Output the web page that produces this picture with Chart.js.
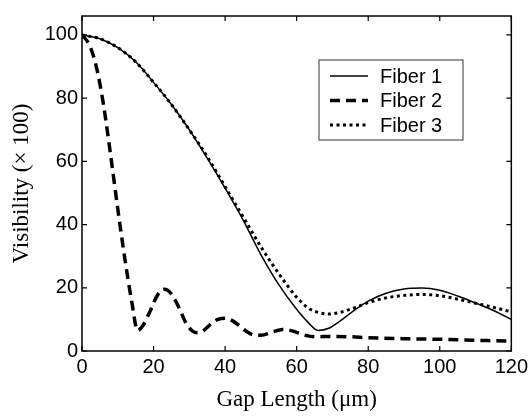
<!DOCTYPE html>
<html>
<head>
<meta charset="utf-8">
<script src="https://cdn.jsdelivr.net/npm/chart.js@4/dist/chart.umd.min.js"></script>
<style>
  body { margin: 0; background: #fff; }
  #wrap { width: 532px; height: 416px; }
</style>
</head>
<body>
<div id="wrap"><canvas id="chart"></canvas></div>
<script>
// Tick labels
const xTicks = [0, 20, 40, 60, 80, 100, 120];
const yTicks = [0, 20, 40, 60, 80, 100];

// Fiber 1 (solid)
const gap1 = [0, 5, 10, 15, 20, 25, 30, 35, 40, 45, 50, 55, 60, 63, 66, 69, 72, 76, 80, 85, 90, 95, 100, 105, 110, 115, 120];
const vis1 = [100, 98.8, 96, 91.5, 85, 78, 70, 61, 51.5, 41.5, 30.5, 21, 13.2, 9.3, 6.5, 7.2, 9.4, 12.8, 15.8, 18.3, 19.6, 19.9, 19.2, 17.4, 15.2, 12.8, 10];

// Fiber 2 (dashed)
const gap2 = [0, 2, 4, 6, 8, 10, 12, 14, 15.5, 17, 19, 21, 23, 25, 27, 29, 31, 32.5, 34, 36, 38, 40, 42, 44, 46, 48, 50, 53, 56, 59, 62, 65, 70, 75, 80, 90, 100, 110, 120];
const vis2 = [100, 97, 90, 78, 62, 45, 29, 15, 6.5, 8, 12.5, 17.5, 19.5, 18, 14, 9, 6.2, 5.8, 6.5, 8.5, 10, 10.4, 9.6, 8, 6.2, 5.1, 5, 5.9, 6.8, 6.3, 5.1, 4.5, 4.6, 4.5, 4.2, 3.9, 3.7, 3.4, 3.1];

// Fiber 3 (dotted)
const gap3 = [0, 5, 10, 15, 20, 25, 30, 35, 40, 45, 50, 55, 60, 63, 66, 69, 72, 76, 80, 85, 90, 95, 100, 105, 110, 115, 120];
const vis3 = [100, 98.8, 96, 91.5, 85, 78, 70, 61.5, 52, 42.5, 33, 24.5, 17, 13.8, 12.2, 11.7, 12.2, 13.6, 15.3, 16.8, 17.6, 17.9, 17.5, 16.4, 15.1, 13.8, 12.4];

const toPoints = (xs, ys) => xs.map((x, i) => ({ x: x, y: ys[i] }));

const TICK_FONT = { family: 'Liberation Sans, Arial, sans-serif', size: 20 };
const TITLE_FONT = { family: 'Liberation Serif, Times New Roman, serif', size: 23 };

// Box, inward ticks and legend, drawn like the MATLAB figure
const frameAndLegend = {
    id: 'frameAndLegend',
    afterDraw(chart) {
        const { ctx, chartArea: a, scales: { x, y } } = chart;
        ctx.save();
        ctx.strokeStyle = '#000';
        ctx.lineWidth = 1.5;
        ctx.strokeRect(a.left, a.top, a.right - a.left, a.bottom - a.top);

        ctx.lineWidth = 1.2;
        ctx.beginPath();
        xTicks.forEach(v => {
            const px = x.getPixelForValue(v);
            ctx.moveTo(px, a.bottom); ctx.lineTo(px, a.bottom - 5);
            ctx.moveTo(px, a.top); ctx.lineTo(px, a.top + 5);
        });
        yTicks.forEach(v => {
            const py = y.getPixelForValue(v);
            ctx.moveTo(a.left, py); ctx.lineTo(a.left + 5, py);
            ctx.moveTo(a.right, py); ctx.lineTo(a.right - 5, py);
        });
        ctx.stroke();

        // Legend
        const box = { left: 319, top: 60, right: 463, bottom: 140 };
        ctx.fillStyle = '#fff';
        ctx.fillRect(box.left, box.top, box.right - box.left, box.bottom - box.top);
        ctx.lineWidth = 1;
        ctx.strokeStyle = '#333';
        ctx.strokeRect(box.left, box.top, box.right - box.left, box.bottom - box.top);

        const rows = [76, 100.5, 125];
        ctx.font = `${TICK_FONT.size}px ${TICK_FONT.family}`;
        ctx.textBaseline = 'middle';
        ctx.textAlign = 'left';
        chart.data.datasets.forEach((ds, i) => {
            const ry = rows[i];
            ctx.strokeStyle = '#000';
            ctx.lineWidth = ds.borderWidth;
            ctx.lineCap = 'butt';
            ctx.setLineDash(ds.borderDash || []);
            ctx.beginPath();
            ctx.moveTo(330, ry);
            ctx.lineTo(368, ry);
            ctx.stroke();
            ctx.setLineDash([]);
            ctx.fillStyle = '#000';
            ctx.fillText(ds.label, 380, ry + 1);
        });
        ctx.restore();
    }
};

new Chart(document.getElementById('chart'), {
    type: 'line',
    data: {
        datasets: [
            {
                label: 'Fiber 1',
                data: toPoints(gap1, vis1),
                borderColor: '#000',
                borderWidth: 1.5,
                borderDash: [],
                pointRadius: 0,
                cubicInterpolationMode: 'monotone'
            },
            {
                label: 'Fiber 2',
                data: toPoints(gap2, vis2),
                borderColor: '#000',
                borderWidth: 3.5,
                borderDash: [10, 6],
                pointRadius: 0,
                cubicInterpolationMode: 'monotone'
            },
            {
                label: 'Fiber 3',
                data: toPoints(gap3, vis3),
                borderColor: '#000',
                borderWidth: 3,
                borderDash: [3, 3.5],
                pointRadius: 0,
                cubicInterpolationMode: 'monotone'
            }
        ]
    },
    options: {
        animation: false,
        responsive: true,
        maintainAspectRatio: false,
        layout: { padding: { top: 10, right: 20, left: 0, bottom: 0 } },
        plugins: {
            legend: { display: false },
            tooltip: { enabled: false }
        },
        scales: {
            x: {
                type: 'linear',
                min: 0,
                max: 120,
                afterFit: scale => { scale.height = 65; },
                afterBuildTicks: scale => { scale.ticks = xTicks.map(v => ({ value: v })); },
                grid: { display: false, drawTicks: false },
                border: { display: false },
                ticks: { color: '#000', font: TICK_FONT, padding: 4, maxRotation: 0 },
                title: {
                    display: true,
                    text: 'Gap Length (μm)',
                    color: '#000',
                    font: TITLE_FONT,
                    padding: { top: 0, bottom: 2 }
                }
            },
            y: {
                type: 'linear',
                min: 0,
                max: 106,
                afterFit: scale => { scale.width = 82; },
                afterBuildTicks: scale => { scale.ticks = yTicks.map(v => ({ value: v })); },
                grid: { display: false, drawTicks: false },
                border: { display: false },
                ticks: { color: '#000', font: TICK_FONT, padding: 4 },
                title: {
                    display: true,
                    text: 'Visibility (× 100)',
                    color: '#000',
                    font: TITLE_FONT,
                    padding: { top: 8, bottom: 0 }
                }
            }
        }
    },
    plugins: [frameAndLegend]
});
</script>
</body>
</html>
